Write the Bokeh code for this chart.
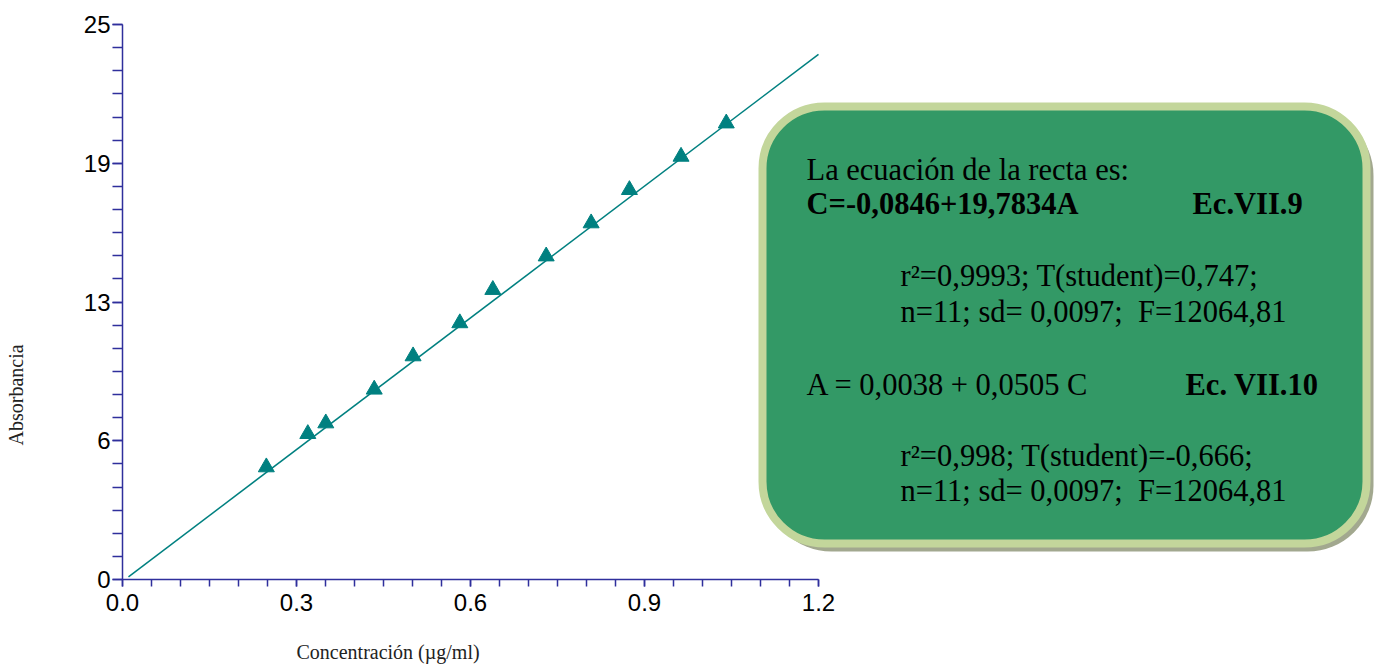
import math
from bokeh.plotting import figure
from bokeh.models import Range1d, FixedTicker, Label, BoxAnnotation, LinearAxis, Title
from bokeh.embed import file_html
from bokeh.resources import INLINE

# ---------------- data ----------------
concentracion = [0.248, 0.3195, 0.3505, 0.434, 0.501, 0.5816, 0.6385, 0.7305, 0.808, 0.874, 0.963, 1.041]
absorbancia = [5.06, 6.56, 7.04, 8.56, 10.06, 11.55, 13.05, 14.56, 16.05, 17.55, 19.05, 20.55]

fit_intercept = -0.0846
fit_slope = 19.7834
fit_x = [0.0103, 1.2]

x_ticks = [0.0, 0.3, 0.6, 0.9, 1.2]
x_tick_labels = ["0.0", "0.3", "0.6", "0.9", "1.2"]
x_minor_ticks = [0.0, 0.05, 0.1, 0.15, 0.2, 0.25, 0.3, 0.35, 0.4, 0.45, 0.5, 0.55, 0.6,
                 0.65, 0.7, 0.75, 0.8, 0.85, 0.9, 0.95, 1.0, 1.05, 1.1, 1.15, 1.2]
y_ticks = [0.0, 6.25, 12.5, 18.75, 25.0]
y_tick_labels = ["0", "6", "13", "19", "25"]
y_minor_ticks = [k * 25.0 / 24.0 for k in range(25)]

x_title = "Concentración (µg/ml)"
y_title = "Absorbancia"

box_title = "La ecuación de la recta es:"
eq1 = "C=-0,0846+19,7834A"
eq1_tag = "Ec.VII.9"
stats1_a = "r²=0,9993; T(student)=0,747;"
stats1_b = "n=11; sd= 0,0097;\u00a0 F=12064,81"
eq2 = "A = 0,0038 + 0,0505 C"
eq2_tag = "Ec. VII.10"
stats2_a = "r²=0,998; T(student)=-0,666;"
stats2_b = "n=11; sd= 0,0097;\u00a0 F=12064,81"

# ---------------- layout ----------------
W, H = 1381, 664
ML, MR, MT, MB = 122, 0, 24, 85
PX_PER_X = 580.0
x_end = (W - ML - MR) / PX_PER_X
PX_PER_Y = (H - MT - MB) / 25.0


def X(px):  # screenshot px -> data x
    return (px - ML) / PX_PER_X


def Y(py):  # screenshot px -> data y
    return (H - MB - py) / PX_PER_Y


p = figure(width=W, height=H, x_range=Range1d(0, x_end), y_range=Range1d(0, 25),
           output_backend="svg", toolbar_location=None,
           min_border_left=ML, min_border_right=MR, min_border_top=MT, min_border_bottom=MB)
p.outline_line_color = None
p.grid.visible = False
p.background_fill_color = "white"
p.border_fill_color = "white"

AXIS_COLOR = "#2f2f9c"
for ax in (p.xaxis[0], p.yaxis[0]):
    ax.axis_line_color = AXIS_COLOR
    ax.axis_line_width = 1.5
    ax.major_tick_line_color = AXIS_COLOR
    ax.minor_tick_line_color = AXIS_COLOR
    ax.major_tick_line_width = 1.5
    ax.minor_tick_line_width = 1.5
    ax.major_tick_in = 0
    ax.minor_tick_in = 0
    ax.major_label_text_font = "Liberation Sans"
    ax.major_label_text_font_size = "24px"
    ax.major_label_text_color = "black"

xa = p.xaxis[0]
xa.bounds = (0, 1.2)
xa.ticker = FixedTicker(ticks=x_ticks, minor_ticks=x_minor_ticks)
xa.major_label_overrides = {t: l for t, l in zip(x_ticks, x_tick_labels)}
xa.major_tick_out = 7
xa.minor_tick_out = 7
xa.major_label_standoff = 7

ya = p.yaxis[0]
ya.ticker = FixedTicker(ticks=y_ticks, minor_ticks=y_minor_ticks)
ya.major_label_overrides = {t: l for t, l in zip(y_ticks, y_tick_labels)}
ya.major_tick_out = 10
ya.minor_tick_out = 10
ya.major_label_standoff = 2


def spacer_axis(gap):
    # an empty, invisible axis used only to reserve about `gap` pixels in a side panel
    return LinearAxis(ticker=FixedTicker(ticks=[], minor_ticks=[]),
                      axis_label="\u00a0", axis_label_standoff=gap,
                      axis_label_text_font_size="1px",
                      axis_line_color=None, major_tick_line_color=None,
                      minor_tick_line_color=None, major_tick_out=0, minor_tick_out=0,
                      major_tick_in=0, minor_tick_in=0, major_label_standoff=0)


def side_title(text, offset):
    return Title(text=text, align="left", offset=offset, standoff=0,
                 text_font="Liberation Serif", text_font_size="20px",
                 text_font_style="normal", text_color="#222222")


# axis titles: spacer then title, both in the side panels
p.add_layout(spacer_axis(21), "below")
p.add_layout(side_title(x_title, 174), "below")
p.add_layout(spacer_axis(50), "left")
p.add_layout(side_title(y_title, 134), "left")

TEAL = "#008080"
fit_y = [fit_intercept + fit_slope * x for x in fit_x]
p.line(fit_x, fit_y, line_color=TEAL, line_width=1.5)
p.scatter(concentracion, absorbancia, marker="triangle", size=16,
          fill_color=TEAL, line_color=TEAL)

# shadow + box
p.add_layout(BoxAnnotation(left=X(765), right=X(1373), top=Y(109), bottom=Y(551),
                           fill_color="#a2a88f", fill_alpha=1.0, line_color=None,
                           border_radius=66))
p.add_layout(BoxAnnotation(left=X(762), right=X(1366), top=Y(106), bottom=Y(543),
                           fill_color="#339966", fill_alpha=1.0, line_color="#c3d69b",
                           line_width=8, line_alpha=1.0, border_radius=62))


def txt(s, px, py, bold=False):
    p.add_layout(Label(x=X(px), y=Y(py), text=s, text_font="Liberation Serif",
                       text_font_size="30.5px", text_color="black",
                       text_font_style="bold" if bold else "normal",
                       text_align="left", text_baseline="alphabetic"))


txt(box_title, 806, 169)
txt(eq1, 806, 203, bold=True)
txt(eq1_tag, 1192, 203, bold=True)
txt(stats1_a, 900, 275)
txt(stats1_b, 900, 311)
txt(eq2, 806, 384)
txt(eq2_tag, 1185, 384, bold=True)
txt(stats2_a, 900, 455)
txt(stats2_b, 900, 490)

open("out.html", "w").write(file_html(p, INLINE))
